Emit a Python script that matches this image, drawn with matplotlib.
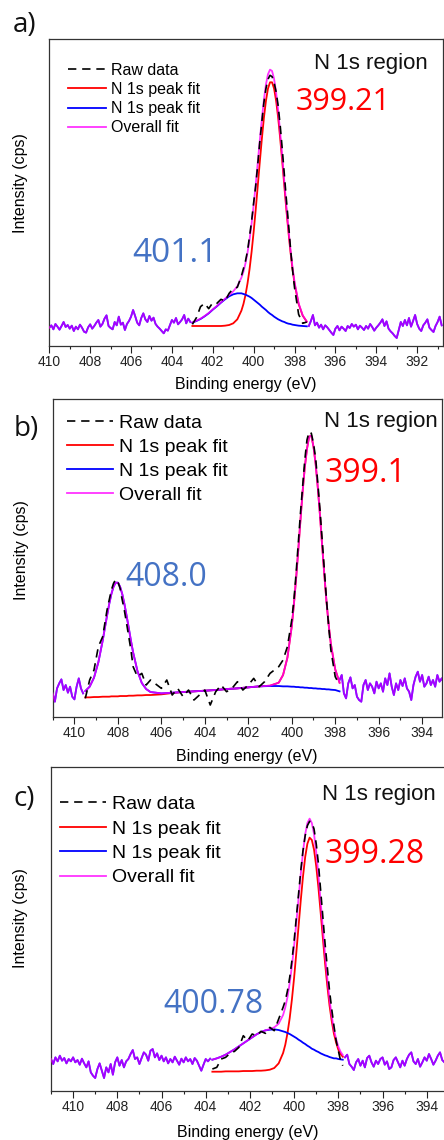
import numpy as np
import matplotlib
matplotlib.use("Agg")
import matplotlib.pyplot as plt
from matplotlib.ticker import MultipleLocator

plt.rcParams['font.family'] = ['Liberation Sans', 'DejaVu Sans']

# ===================== DATA =====================
# ---- panel a ----
a_x = [403.0, 402.8, 402.6, 402.4, 402.2, 402.0, 401.8, 401.6, 401.4, 401.2, 401.0,
       400.8, 400.6,
       400.5, 400.4, 400.3, 400.2, 400.1, 400.0, 399.9, 399.8, 399.7, 399.6, 399.5, 399.4, 399.3,
       399.2, 399.1, 399.0, 398.9, 398.8, 398.7, 398.6, 398.5, 398.4, 398.3, 398.2, 398.1, 398.0,
       397.8, 397.6, 397.4]
a_red = [60, 60, 60, 60, 60, 60, 60, 60, 61, 63, 68,
         80, 106,
         126, 153, 188, 231, 283, 343, 409, 480, 552, 621, 684, 735, 772,
         791, 791, 772, 735, 684, 621, 552, 480, 409, 343, 283, 231, 188,
         126, 91, 73]
a_blue = [70, 75, 81, 89, 98, 109, 119, 130, 140, 149, 155,
          158, 158,
          156, 154, 151, 148, 144, 139, 134, 129, 124, 118, 113, 108, 102,
          97, 93, 88, 84, 80, 77, 74, 72, 69, 67, 66, 64, 63,
          61, 60, 59]
a_overall = [71, 76, 82, 90, 99, 110, 120, 131, 142, 153, 164,
             179, 205,
             223, 248, 280, 320, 368, 423, 484, 550, 617, 680, 738, 784, 815,
             829, 825, 801, 760, 705, 639, 567, 493, 419, 351, 290, 236, 192,
             128, 92, 73]
a_raw_x = a_x
a_raw = [65, 85, 118, 128, 112, 130, 128, 140, 135, 158, 172,
         176, 210,
         232, 255, 285, 330, 375, 430, 480, 545, 612, 672, 730, 772, 800,
         812, 808, 790, 762, 720, 660, 590, 515, 440, 370, 295, 230, 175,
         95, 68, 72]
a_noise_left_range = (410.0, 403.1)
a_noise_left = [55, 62, 50, 66, 58, 49, 60, 72, 57, 63,
                52, 61, 45, 58, 50, 64, 55, 43, 40, 56,
                65, 52, 60, 70, 78, 58, 66, 82, 92, 60,
                54, 50, 72, 62, 88, 64, 70, 48, 66, 75,
                88, 108, 90, 70, 62, 84, 98, 80, 72, 90,
                76, 85, 66, 58, 52, 45, 38, 50, 46, 62,
                78, 70, 84, 65, 72, 80, 93, 68, 82, 72]
a_noise_right_range = (397.3, 390.8)
a_noise_right = [60, 75, 93, 62, 70, 55, 64, 50, 62, 56,
                 48, 40, 33, 52, 60, 47, 58, 52, 45, 60,
                 54, 66, 58, 64, 50, 61, 55, 48, 60, 52,
                 66, 57, 46, 55, 62, 70, 80, 60, 74, 52,
                 44, 38, 30, 24, 48, 72, 60, 78, 62, 84,
                 58, 75, 93, 66, 52, 45, 62, 70, 80, 55,
                 48, 42, 60, 72, 88, 62]

# ---- panel b ----
b_x = [409.5, 409.3, 409.1, 408.9, 408.7,
       408.6, 408.5, 408.4, 408.3, 408.2, 408.1, 408.0, 407.9, 407.8, 407.7, 407.6, 407.5, 407.4, 407.3,
       407.1, 406.9, 406.7, 406.5,
       406.0, 405.5, 405.0, 404.5, 404.0, 403.5, 403.0, 402.5, 402.0, 401.5, 401.0,
       400.6, 400.4, 400.2,
       400.0, 399.9, 399.8, 399.7, 399.6, 399.5, 399.4, 399.3, 399.2, 399.1, 399.0, 398.9, 398.8,
       398.7, 398.6, 398.5, 398.4, 398.3, 398.2,
       398.0, 397.8]
b_red = [58, 58, 59, 59, 60,
         60, 60, 60, 61, 61, 61, 61, 62, 62, 62, 62, 63, 63, 63,
         64, 64, 65, 65,
         67, 71, 74, 76, 78, 80, 83, 85, 88, 91, 93,
         102, 125, 177,
         271, 338, 414, 500, 589, 675, 748, 803, 840, 843, 810, 758, 686,
         603, 512, 425, 344, 275, 218,
         142, 102]
b_blue = [77, 90, 117, 163, 228,
          266, 303, 338, 368, 390, 402, 402, 390, 368, 338, 303, 266, 228, 193,
          137, 101, 83, 74,
          70, 72, 74, 76, 78, 80, 83, 85, 88, 91, 92,
          92, 91, 91,
          90, 90, 89, 89, 88, 88, 87, 87, 86, 86, 85, 85, 84,
          84, 83, 83, 82, 82, 81,
          80, 76]
b_overall = [77, 90, 117, 163, 228,
             266, 303, 338, 368, 390, 402, 402, 390, 368, 338, 303, 266, 228, 193,
             137, 101, 83, 74,
             70, 72, 74, 76, 78, 80, 83, 85, 88, 91, 93,
             102, 125, 177,
             271, 338, 414, 500, 589, 675, 748, 803, 840, 843, 810, 758, 686,
             603, 512, 425, 344, 275, 218,
             142, 102]
b_raw_x = [409.5, 409.3, 409.1, 408.9, 408.7,
           408.6, 408.5, 408.4, 408.3, 408.2, 408.1, 408.0, 407.9, 407.8, 407.7, 407.6, 407.5, 407.4, 407.3,
           407.1, 406.9, 406.7, 406.5,
           406.0, 405.75, 405.5, 405.25, 405.0, 404.75, 404.5, 404.25, 404.0, 403.75, 403.5,
           403.25, 403.0, 402.75, 402.5, 402.25, 402.0, 401.75, 401.5, 401.25, 401.0,
           400.6, 400.4, 400.2,
           400.0, 399.9, 399.8, 399.7, 399.6, 399.5, 399.4, 399.3, 399.2, 399.1, 399.0, 398.9, 398.8,
           398.7, 398.6, 398.5, 398.4, 398.3, 398.2,
           398.0, 397.8]
b_raw = [55, 110, 140, 210, 240,
         280, 320, 350, 380, 400, 412, 405, 385, 350, 318, 280, 240, 200, 150,
         120, 130, 95, 110,
         85, 110, 65, 85, 60, 80, 50, 65, 80, 35, 75,
         95, 75, 85, 105, 80, 95, 115, 90, 105, 130,
         150, 170, 210,
         290, 350, 430, 520, 610, 690, 770, 830, 855, 850, 820, 775, 700,
         620, 530, 440, 350, 270, 200,
         120, 95]
b_noise_left_range = (411.0, 409.6)
b_noise_left = [70, 45, 85, 100, 112, 80, 95, 72, 90, 60, 52, 90, 115, 85, 70]
b_noise_right_range = (397.8, 393.0)
b_noise_right = [110, 125, 70, 55, 100, 118, 85, 95, 60, 50,
                 45, 95, 110, 80, 100, 90, 70, 105, 85, 100,
                 75, 115, 95, 130, 90, 65, 100, 80, 110, 92,
                 115, 85, 75, 50, 95, 120, 135, 105, 125, 90,
                 100, 120, 95, 110, 90, 125, 105, 115, 100]

# ---- panel c ----
c_x = [403.7, 403.5, 403.3, 403.1, 402.9, 402.7, 402.5, 402.3, 402.1, 401.9, 401.7, 401.5,
       401.3, 401.1, 400.9, 400.7, 400.5,
       400.4, 400.3, 400.2, 400.1, 400.0, 399.9, 399.8, 399.7, 399.6, 399.5, 399.4, 399.3,
       399.2, 399.1, 399.0, 398.9, 398.8, 398.7, 398.6, 398.5, 398.4, 398.3, 398.2, 398.1,
       398.0, 397.9, 397.8]
c_red = [57, 57, 57, 58, 58, 58, 58, 59, 59, 59, 60, 60,
         61, 63, 68, 82, 113,
         138, 173, 218, 274, 340, 415, 493, 571, 642, 701, 741, 759,
         752, 723, 673, 608, 534, 457, 382, 315, 256, 209, 171, 144,
         123, 110, 102]
c_blue = [93, 97, 102, 108, 116, 124, 133, 142, 151, 160, 169, 176,
          181, 183, 184, 182, 178,
          176, 173, 170, 166, 162, 158, 153, 149, 144, 140, 135, 131,
          126, 123, 119, 116, 112, 109, 106, 104, 101, 99, 97, 97,
          95, 94, 93]
c_overall = [93, 97, 102, 108, 116, 124, 133, 142, 151, 160, 169, 176,
             181, 185, 190, 201, 227,
             250, 281, 323, 374, 435, 505, 577, 650, 715, 769, 803, 816,
             803, 770, 715, 646, 567, 486, 407, 337, 274, 224, 183, 155,
             132, 117, 107]
c_raw_x = c_x
c_raw = [65, 70, 95, 100, 112, 118, 130, 165, 150, 170, 165, 178,
         172, 190, 180, 215, 250,
         270, 300, 340, 390, 450, 520, 590, 660, 720, 765, 795, 808,
         805, 785, 740, 680, 600, 520, 440, 370, 300, 245, 195, 150,
         120, 90, 75]
c_noise_left_range = (411.0, 403.8)
c_noise_left = [95, 80, 100, 88, 105, 90, 98, 82, 95, 88,
                100, 85, 92, 78, 96, 82, 70, 88, 55, 45,
                38, 65, 82, 60, 38, 70, 55, 80, 48, 85,
                100, 75, 92, 70, 88, 95, 110, 122, 95, 100,
                80, 98, 115, 108, 90, 120, 125, 100, 112, 92,
                105, 88, 100, 82, 95, 85, 102, 90, 78, 96,
                85, 100, 88, 95, 80, 98, 90, 75, 60, 78,
                95, 88, 96]
c_noise_right_range = (397.7, 393.2)
c_noise_right = [100, 108, 80, 72, 62, 85, 95, 75, 90, 70,
                 98, 105, 85, 72, 90, 80, 95, 100, 78, 88,
                 65, 70, 92, 100, 85, 70, 90, 75, 95, 108,
                 115, 88, 80, 95, 72, 85, 100, 90, 110, 95,
                 78, 90, 105, 115, 92, 85]

# tick positions / labels
major_step = 2
minor_step = 1

# ===================== STYLE =====================
RED = '#ff0000'
BLUE = '#0000ff'
MAGENTA = '#ff00ff'
NUM_BLUE = '#4472c4'
fig = plt.figure(figsize=(4.44, 11.40), dpi=100)

panels = [
    dict(data=(a_x, a_red, a_blue, a_overall, a_raw_x, a_raw,
               [(a_noise_left_range, a_noise_left), (a_noise_right_range, a_noise_right)]),
         rect=[49.3, 39.3, 442.7, 346.0], xlim=(410.0, 390.75), ylim=(0, 920),
         letter='a)', letter_xy=(13, 25.5),
         leg=dict(x=68, y=62.5, fs=11.5, hl=2.4, ls=0.27), right_spine=True,
         region=(428, 69.3), red_txt=('399.21', 296, 110, 22), blue_txt=('401.1', 132, 261.7, 24),
         xlab_y=384, ylab=(20, 183)),
    dict(data=(b_x, b_red, b_blue, b_overall, b_raw_x, b_raw,
               [(b_noise_left_range, b_noise_left), (b_noise_right_range, b_noise_right)]),
         rect=[52.7, 399.3, 441.7, 716.7], xlim=(411.0, 393.1), ylim=(0, 952),
         letter='b)', letter_xy=(14, 429),
         leg=dict(x=67, y=414.5, fs=14, hl=2.35, ls=0.33), right_spine=True,
         region=(438, 426.7), red_txt=('399.1', 325, 481.7, 23), blue_txt=('408.0', 125, 585.7, 23),
         xlab_y=757, ylab=(22, 550)),
    dict(data=(c_x, c_red, c_blue, c_overall, c_raw_x, c_raw,
               [(c_noise_left_range, c_noise_left), (c_noise_right_range, c_noise_right)]),
         rect=[51.0, 767.3, 444.0, 1090.7], xlim=(411.0, 393.22), ylim=(0, 970),
         letter='c)', letter_xy=(13, 799.5),
         leg=dict(x=60, y=795.5, fs=14, hl=2.35, ls=0.35), right_spine=False,
         region=(436, 800), red_txt=('399.28', 325, 862.7, 23), blue_txt=('400.78', 163, 1013.3, 23),
         xlab_y=1132, ylab=(20, 918)),
]

W, H = 444.0, 1140.0
for p in panels:
    l, t, r, b = p['rect']
    ax = fig.add_axes([l / W, 1 - b / H, (r - l) / W, (b - t) / H])
    fx, red, blue, overall, rx, raw, noise = p['data']

    def ax_x(px):
        return (px - l) / (r - l)

    def ax_y(py):
        return (b - py) / (b - t)

    for (x0, x1), vals in noise:
        nx = np.linspace(x0, x1, len(vals))
        ax.plot(nx, vals, color=BLUE, lw=1.3, zorder=2)
        ax.plot(nx, vals, color=MAGENTA, lw=1.3, alpha=0.65, zorder=3)

    h_red, = ax.plot(fx, red, color=RED, lw=1.3, zorder=2, label='N 1s peak fit')
    h_blue, = ax.plot(fx, blue, color=BLUE, lw=1.3, zorder=2, label='N 1s peak fit')
    h_all, = ax.plot(fx, overall, color=MAGENTA, lw=1.3, alpha=0.8, zorder=3, label='Overall fit')
    h_raw, = ax.plot(rx, raw, color='black', lw=1.2, ls=(0, (5, 3.5)), zorder=4, label='Raw data')

    ax.set_xlim(*p['xlim'])
    ax.set_ylim(*p['ylim'])
    ax.xaxis.set_major_locator(MultipleLocator(major_step))
    ax.xaxis.set_minor_locator(MultipleLocator(minor_step))
    ax.tick_params(axis='x', which='major', direction='out', length=4.8, width=0.8,
                   labelsize=10, pad=2, colors='#222222')
    ax.tick_params(axis='x', which='minor', direction='out', length=2.4, width=0.8, colors='#222222')
    ax.set_yticks([])
    for s in ax.spines.values():
        s.set_linewidth(0.9)
        s.set_color('#333333')
    if not p['right_spine']:
        ax.spines['right'].set_visible(False)

    ax.set_xlabel('Binding energy (eV)', fontsize=11.5)
    ax.xaxis.set_label_coords(0.5, ax_y(p['xlab_y']))
    ax.xaxis.label.set_verticalalignment('center')
    ax.set_ylabel('Intensity (cps)', fontsize=11.5)
    ax.yaxis.set_label_coords(ax_x(p['ylab'][0]), ax_y(p['ylab'][1]))
    ax.yaxis.label.set_verticalalignment('center')

    lg = p['leg']
    ax.legend(handles=[h_raw, h_red, h_blue, h_all], loc='upper left',
              bbox_to_anchor=(ax_x(lg['x']), ax_y(lg['y'])), frameon=False,
              fontsize=lg['fs'], handlelength=lg['hl'], handletextpad=0.3,
              labelspacing=lg['ls'], borderpad=0, borderaxespad=0)

    ax.text(ax_x(p['region'][0]), ax_y(p['region'][1]), 'N 1s region', transform=ax.transAxes,
            ha='right', va='baseline', fontsize=16, color='#111111')
    txt, tx, ty, fs = p['red_txt']
    ax.text(ax_x(tx), ax_y(ty), txt, transform=ax.transAxes, ha='left', va='baseline',
            fontsize=fs, color=RED, family='Open Sans')
    txt, tx, ty, fs = p['blue_txt']
    ax.text(ax_x(tx), ax_y(ty), txt, transform=ax.transAxes, ha='left', va='baseline',
            fontsize=fs, color=NUM_BLUE, family='Open Sans')

    fig.text(p['letter_xy'][0] / W, 1 - p['letter_xy'][1] / H, p['letter'],
             ha='left', va='center', fontsize=20, family='Open Sans', color='#111111')

fig.savefig('out.png', dpi=100)
